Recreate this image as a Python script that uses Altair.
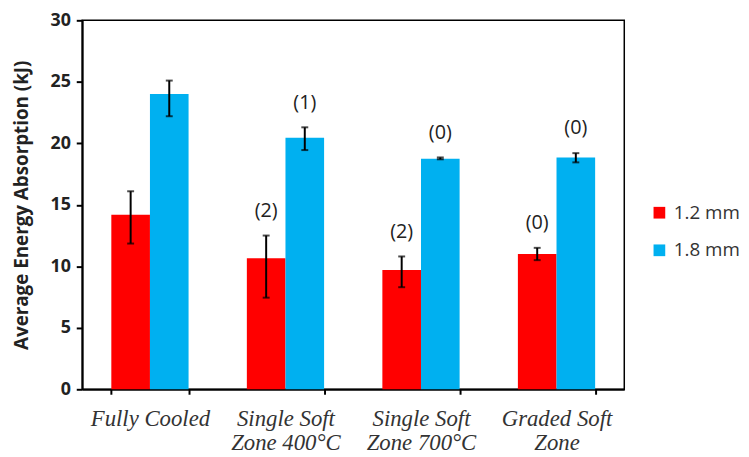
import altair as alt
import pandas as pd

categories = ["Fully Cooled", "Single Soft\nZone 400°C", "Single Soft\nZone 700°C", "Graded Soft\nZone"]
series = ["1.2 mm", "1.8 mm"]
colors = ["#FF0000", "#00B0F0"]

mean_12 = [14.2, 10.65, 9.7, 11.0]
low_12 = [11.85, 7.45, 8.3, 10.5]
high_12 = [16.1, 12.5, 10.8, 11.5]
label_12 = ["", "(2)", "(2)", "(0)"]

mean_18 = [24.0, 20.45, 18.75, 18.85]
low_18 = [22.2, 19.45, 18.7, 18.45]
high_18 = [25.1, 21.3, 18.85, 19.2]
label_18 = ["", "(1)", "(0)", "(0)"]

rows = []
for s, means, lows, highs, labels in [
    (series[0], mean_12, low_12, high_12, label_12),
    (series[1], mean_18, low_18, high_18, label_18),
]:
    for c, m, lo, hi, lab in zip(categories, means, lows, highs, labels):
        rows.append({"cat": c, "series": s, "mean": m, "lo": lo, "hi": hi, "label": lab})
df = pd.DataFrame(rows)

x = alt.X(
    "cat:N",
    sort=categories,
    scale=alt.Scale(paddingInner=0.43, paddingOuter=0.215),
    axis=alt.Axis(
        title=None,
        labelExpr="datum.value ? split(datum.value, '\\n') : ''",
        labelAngle=0,
        labelFont="Liberation Serif",
        labelFontStyle="italic",
        labelFontSize=23,
        labelLineHeight=24,
        labelColor="#333333",
        labelPadding=14,
        tickBand="extent",
        tickSize=5,
        tickColor="black",
        tickWidth=2,
        domainColor="black",
        domainWidth=2,
    ),
)
xoff = alt.XOffset("series:N", sort=series, scale=alt.Scale(paddingInner=0, paddingOuter=0))

base = alt.Chart(df).encode(x=x, xOffset=xoff)

bars = base.mark_bar().encode(
    y=alt.Y(
        "mean:Q",
        scale=alt.Scale(domain=[0, 30]),
        axis=alt.Axis(
            title="Average Energy Absorption (kJ)",
            values=[0, 5, 10, 15, 20, 25, 30],
            grid=False,
            labelFont="Open Sans",
            labelFontWeight="bold",
            labelFontSize=18,
            labelColor="#222222",
            labelPadding=6,
            tickSize=6,
            tickColor="black",
            tickWidth=2,
            domainColor="black",
            domainWidth=2,
            titleFont="Open Sans",
            titleFontWeight="bold",
            titleFontSize=19,
            titleColor="#222222",
            titleX=-61,
            titleBaseline="middle",
        ),
    ),
    color=alt.Color(
        "series:N",
        sort=series,
        scale=alt.Scale(domain=series, range=colors),
        legend=alt.Legend(
            title=None,
            orient="none",
            legendX=574,
            legendY=185,
            symbolType="square",
            symbolSize=140,
            symbolStrokeWidth=0,
            symbolOpacity=1,
            labelFont="Open Sans",
            labelFontSize=19,
            labelColor="#333333",
            labelOffset=5,
            rowPadding=18,
            padding=0,
        ),
    ),
)

rules = base.mark_rule(color="black", strokeWidth=2).encode(y="lo:Q", y2="hi:Q")
caps_lo = base.mark_tick(color="black", thickness=2, size=7).encode(y="lo:Q")
caps_hi = base.mark_tick(color="black", thickness=2, size=7).encode(y="hi:Q")

texts = base.mark_text(
    font="Open Sans", fontSize=20, color="#222222", baseline="middle", dy=-25
).encode(y="hi:Q", text="label:N")

chart = (
    alt.layer(bars, rules, caps_lo, caps_hi, texts)
    .properties(
        width=548,
        height=373,
        autosize=alt.AutoSizeParams(type="none"),
        padding={"left": 75, "top": 10, "right": 118, "bottom": 66},
        background="white",
    )
    .configure_view(stroke="black", strokeWidth=1.5)
)

chart.save("out.html", embed_options={"renderer": "svg", "actions": False})
